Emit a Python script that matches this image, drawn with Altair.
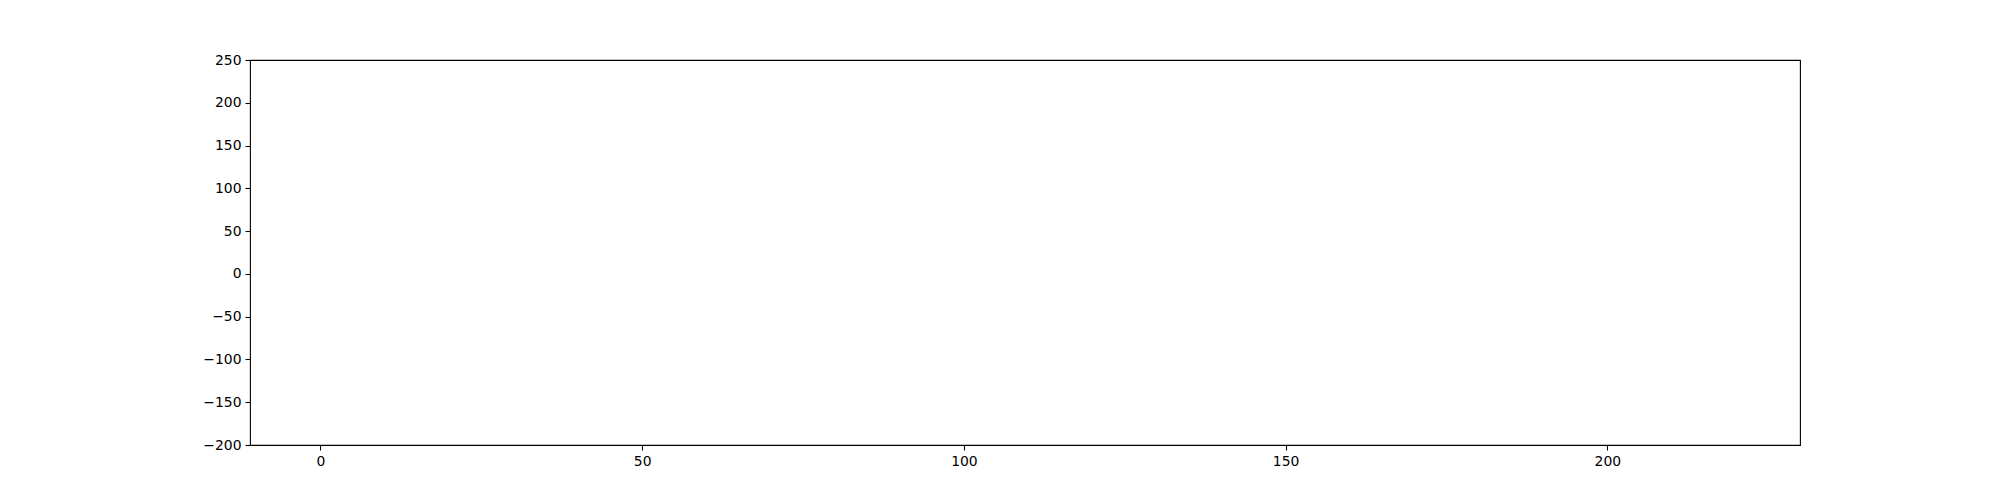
import altair as alt

# The reference plot shows empty axes (no visible series)
x_values = []
y_values = []
x_ticks = [0, 50, 100, 150, 200]
y_ticks = [-200, -150, -100, -50, 0, 50, 100, 150, 200, 250]

data = alt.Data(values=[{"x": a, "y": b} for a, b in zip(x_values, y_values)])

axis_common = dict(
    grid=False,
    domain=False,
    tickColor="black",
    tickWidth=1.1,
    tickSize=5,
    labelFont="DejaVu Sans",
    labelFontSize=13.9,
    labelColor="black",
    labelPadding=4,
    title=None,
)

chart = (
    alt.Chart(data)
    .mark_line(color="#1f77b4")
    .encode(
        x=alt.X("x:Q", scale=alt.Scale(domain=[-10.95, 229.95], nice=False, zero=False),
                axis=alt.Axis(values=x_ticks, format="d", **axis_common)),
        y=alt.Y("y:Q", scale=alt.Scale(domain=[-200, 250], nice=False, zero=False),
                axis=alt.Axis(values=y_ticks, format="d", **axis_common)),
    )
    .properties(width=1550, height=385, autosize=alt.AutoSizeParams(type="none"),
                background="white",
                padding={"left": 242, "top": 52, "right": 190, "bottom": 47})
    .configure_view(stroke="black", strokeWidth=1.1)
)

chart.save("out.html", embed_options={"renderer": "svg", "actions": False})
